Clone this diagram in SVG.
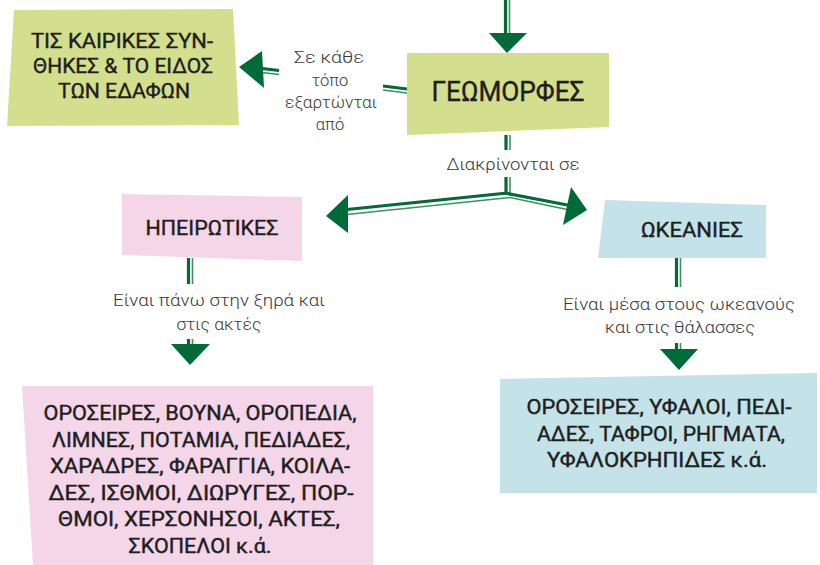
<svg xmlns="http://www.w3.org/2000/svg" width="820" height="565" viewBox="0 0 820 565">
<style>
.box{font-family:Roboto,"Liberation Sans",sans-serif;font-weight:400;fill:#1e1e1e;stroke:#1e1e1e;stroke-width:0.4;text-anchor:middle}
.lbl{font-family:Roboto,"Liberation Sans",sans-serif;font-weight:300;fill:#383838;text-anchor:middle;font-size:16.5px}
.thick{stroke:#006b38;stroke-width:3.2;fill:none}
.thin{stroke:#3f8f5f;stroke-width:1.6;fill:none}
.head{fill:#006b38}
</style>
<rect width="820" height="565" fill="#ffffff"/>
<g id="connectors">
  <line class="thick" x1="505.5" y1="0" x2="505.5" y2="34"/>
  <line class="thin" x1="509.5" y1="0" x2="509.5" y2="34"/>
  <polygon class="head" points="489,33 527,33 507,53"/>
  <line class="thick" x1="262" y1="68.5" x2="279" y2="70.5"/>
  <line class="thin" x1="262" y1="72.5" x2="279" y2="74.5"/>
  <line class="thick" x1="383" y1="86" x2="407" y2="89"/>
  <line class="thin" x1="383" y1="90" x2="407" y2="93"/>
  <polygon class="head" points="239,67 262,51 264,88"/>
  <line class="thick" x1="506" y1="135" x2="506" y2="150"/>
  <line class="thin" x1="510" y1="135" x2="510" y2="150"/>
  <line class="thick" x1="506" y1="177" x2="506" y2="194"/>
  <line class="thin" x1="510" y1="177" x2="510" y2="196"/>
  <polyline class="thick" points="507.5,193 347,209.5"/>
  <polyline class="thin" points="510,197.5 347,214.5"/>
  <polygon class="head" points="326,216 348,195 348,233"/>
  <polyline class="thick" points="505,193 570,205.5"/>
  <polyline class="thin" points="510,197.5 567,209.5"/>
  <polygon class="head" points="587,210 571,187 563,225"/>
  <line class="thick" x1="188.5" y1="258" x2="188.5" y2="284"/>
  <line class="thin" x1="192.5" y1="258" x2="192.5" y2="284"/>
  <line class="thick" x1="188.5" y1="339" x2="188.5" y2="345"/>
  <line class="thin" x1="192.5" y1="339" x2="192.5" y2="345"/>
  <polygon class="head" points="171,344 210,344 190,365"/>
  <line class="thick" x1="676.5" y1="258" x2="676.5" y2="287"/>
  <line class="thin" x1="680.5" y1="258" x2="680.5" y2="287"/>
  <line class="thick" x1="676.5" y1="343" x2="676.5" y2="350"/>
  <line class="thin" x1="680.5" y1="343" x2="680.5" y2="350"/>
  <polygon class="head" points="660,349 698,349 679,370"/>
  <text class="lbl" x="329" y="63" textLength="70" lengthAdjust="spacingAndGlyphs">Σε κάθε</text>
  <text class="lbl" x="330" y="86">τόπο</text>
  <text class="lbl" x="331" y="108" textLength="92" lengthAdjust="spacingAndGlyphs">εξαρτώνται</text>
  <text class="lbl" x="330" y="130">από</text>
  <text class="lbl" x="513" y="170" textLength="133" lengthAdjust="spacingAndGlyphs">Διακρίνονται σε</text>
  <text class="lbl" x="219" y="306" textLength="212" lengthAdjust="spacingAndGlyphs">Είναι πάνω στην ξηρά και</text>
  <text class="lbl" x="219" y="330" textLength="85" lengthAdjust="spacingAndGlyphs">στις ακτές</text>
  <text class="lbl" x="679" y="310" textLength="232" lengthAdjust="spacingAndGlyphs">Είναι μέσα στους ωκεανούς</text>
  <text class="lbl" x="680" y="333" textLength="150" lengthAdjust="spacingAndGlyphs">και στις θάλασσες</text>
</g>
<g id="node-conditions">
  <polygon points="14,10 233,9 239,125 7,126" fill="#d4df8d"/>
  <text class="box" x="122" y="48" font-size="21" textLength="182" lengthAdjust="spacingAndGlyphs">ΤΙΣ ΚΑΙΡΙΚΕΣ ΣΥΝ-</text>
  <text class="box" x="123" y="73" font-size="21" textLength="180" lengthAdjust="spacingAndGlyphs">ΘΗΚΕΣ &amp; ΤΟ ΕΙΔΟΣ</text>
  <text class="box" x="124" y="98" font-size="21" textLength="132" lengthAdjust="spacingAndGlyphs">ΤΩΝ ΕΔΑΦΩΝ</text>
</g>
<g id="node-geomorfes">
  <polygon points="407,53 609,53 609,127 407,135" fill="#d4df8d"/>
  <text class="box" x="508" y="101" font-size="28" textLength="153" lengthAdjust="spacingAndGlyphs">ΓΕΩΜΟΡΦΕΣ</text>
</g>
<g id="node-ipeirotikes">
  <polygon points="122,194 302,197 302,261 122,255" fill="#f5d6e8"/>
  <text class="box" x="212" y="235" font-size="21" textLength="133" lengthAdjust="spacingAndGlyphs">ΗΠΕΙΡΩΤΙΚΕΣ</text>
</g>
<g id="node-okeanies">
  <polygon points="605,200 766,205 766,258 598,258" fill="#c3e3e8"/>
  <text class="box" x="692" y="237" font-size="21" textLength="102" lengthAdjust="spacingAndGlyphs">ΩΚΕΑΝΙΕΣ</text>
</g>
<g id="node-land-list">
  <polygon points="22,386 373,386 373,565 33,565" fill="#f5d6e8"/>
  <text class="box" x="200" y="420" font-size="19.5" textLength="313" lengthAdjust="spacingAndGlyphs">ΟΡΟΣΕΙΡΕΣ, ΒΟΥΝΑ, ΟΡΟΠΕΔΙΑ,</text>
  <text class="box" x="201" y="447" font-size="19.5" textLength="298" lengthAdjust="spacingAndGlyphs">ΛΙΜΝΕΣ, ΠΟΤΑΜΙΑ, ΠΕΔΙΑΔΕΣ,</text>
  <text class="box" x="200" y="473" font-size="19.5" textLength="300" lengthAdjust="spacingAndGlyphs">ΧΑΡΑΔΡΕΣ, ΦΑΡΑΓΓΙΑ, ΚΟΙΛΑ-</text>
  <text class="box" x="201" y="500" font-size="19.5" textLength="305" lengthAdjust="spacingAndGlyphs">ΔΕΣ, ΙΣΘΜΟΙ, ΔΙΩΡΥΓΕΣ, ΠΟΡ-</text>
  <text class="box" x="199" y="526" font-size="19.5" textLength="282" lengthAdjust="spacingAndGlyphs">ΘΜΟΙ, ΧΕΡΣΟΝΗΣΟΙ, ΑΚΤΕΣ,</text>
  <text class="box" x="200" y="553" font-size="19.5" textLength="143" lengthAdjust="spacingAndGlyphs">ΣΚΟΠΕΛΟΙ κ.ά.</text>
</g>
<g id="node-ocean-list">
  <polygon points="500,379 817,373 817,493 500,493" fill="#c3e3e8"/>
  <text class="box" x="659" y="414" font-size="19.5" textLength="265" lengthAdjust="spacingAndGlyphs">ΟΡΟΣΕΙΡΕΣ, ΥΦΑΛΟΙ, ΠΕΔΙ-</text>
  <text class="box" x="661" y="441" font-size="19.5" textLength="248" lengthAdjust="spacingAndGlyphs">ΑΔΕΣ, ΤΑΦΡΟΙ, ΡΗΓΜΑΤΑ,</text>
  <text class="box" x="657" y="467" font-size="19.5" textLength="220" lengthAdjust="spacingAndGlyphs">ΥΦΑΛΟΚΡΗΠΙΔΕΣ κ.ά.</text>
</g>
</svg>
